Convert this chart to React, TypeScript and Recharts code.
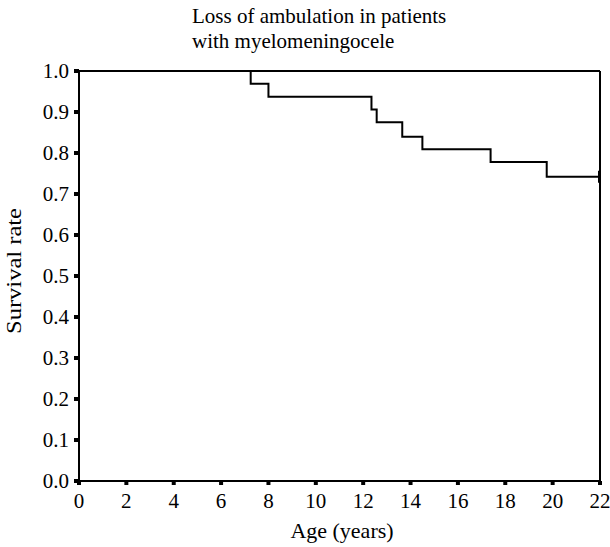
import React from 'react';
import { LineChart, Line, XAxis, YAxis, ReferenceLine } from 'recharts';

const ages = [0, 7.25, 8.0, 12.35, 12.57, 13.65, 14.5, 17.38, 19.75, 22];
const survival = [1.0, 0.969, 0.9375, 0.906, 0.875, 0.8395, 0.809, 0.778, 0.742, 0.742];
const xTicks = [0, 2, 4, 6, 8, 10, 12, 14, 16, 18, 20, 22];
const yTicks = [0, 0.1, 0.2, 0.3, 0.4, 0.5, 0.6, 0.7, 0.8, 0.9, 1.0];
const titleLines = ['Loss of ambulation in patients', 'with myelomeningocele'];
const xLabel = 'Age (years)';
const yLabel = 'Survival rate';

const data = ages.map((a, i) => ({ age: a, s: survival[i] }));

const FONT = 'Liberation Serif';

const CensorDot = (props: any) => {
  const { cx, cy, index } = props;
  if (index !== data.length - 1) return <g key={`d${index}`} />;
  return <line key={`d${index}`} x1={cx - 1} x2={cx - 1} y1={cy - 6} y2={cy + 6} stroke="#000" strokeWidth={2} />;
};

const XTick = (props: any) => {
  const { x, y, payload } = props;
  return (
    <text x={x} y={y + 21} textAnchor="middle" fill="#000" style={{ fontFamily: FONT, fontSize: 21 }}>
      {payload.value}
    </text>
  );
};

const YTick = (props: any) => {
  const { x, y, payload } = props;
  return (
    <text x={x - 3} y={y + 7} textAnchor="end" fill="#000" style={{ fontFamily: FONT, fontSize: 21 }}>
      {Number(payload.value).toFixed(1)}
    </text>
  );
};

export default function App() {
  return (
    <div style={{ position: 'absolute', left: 0, top: 0, width: 610, height: 547, background: '#fff' }}>
      <LineChart width={610} height={547} data={data} margin={{ top: 71, right: 10, bottom: 0, left: 0 }}>
        <XAxis
          dataKey="age"
          type="number"
          domain={[0, 22]}
          ticks={xTicks}
          allowDataOverflow
          height={66}
          axisLine={{ stroke: '#000', strokeWidth: 2 }}
          tickLine={{ stroke: '#000', strokeWidth: 4 }}
          tickSize={4}
          tick={<XTick />}
          interval={0}
        />
        <YAxis
          type="number"
          domain={[0, 1]}
          ticks={yTicks}
          width={79}
          axisLine={{ stroke: '#000', strokeWidth: 2 }}
          tickLine={{ stroke: '#000', strokeWidth: 4 }}
          tickSize={5}
          tick={<YTick />}
          interval={0}
        />
        <ReferenceLine y={1} stroke="#000" strokeWidth={2} />
        <ReferenceLine x={22} stroke="#000" strokeWidth={2} />
        <Line
          dataKey="s"
          type="stepAfter"
          stroke="#000"
          strokeWidth={2}
          dot={CensorDot}
          activeDot={false}
          isAnimationActive={false}
        />
      </LineChart>
      <svg width={610} height={547} style={{ position: 'absolute', left: 0, top: 0, pointerEvents: 'none' }}>
        <g style={{ fontFamily: FONT }} fill="#000">
          <text x={192} y={23} fontSize={21}>{titleLines[0]}</text>
          <text x={192} y={48} fontSize={21}>{titleLines[1]}</text>
          <text x={342} y={538} fontSize={22} textAnchor="middle">{xLabel}</text>
          <text x={21} y={271} fontSize={21} textAnchor="middle" transform="rotate(-90 21 271)" textLength={126} lengthAdjust="spacingAndGlyphs">{yLabel}</text>
        </g>
      </svg>
    </div>
  );
}
